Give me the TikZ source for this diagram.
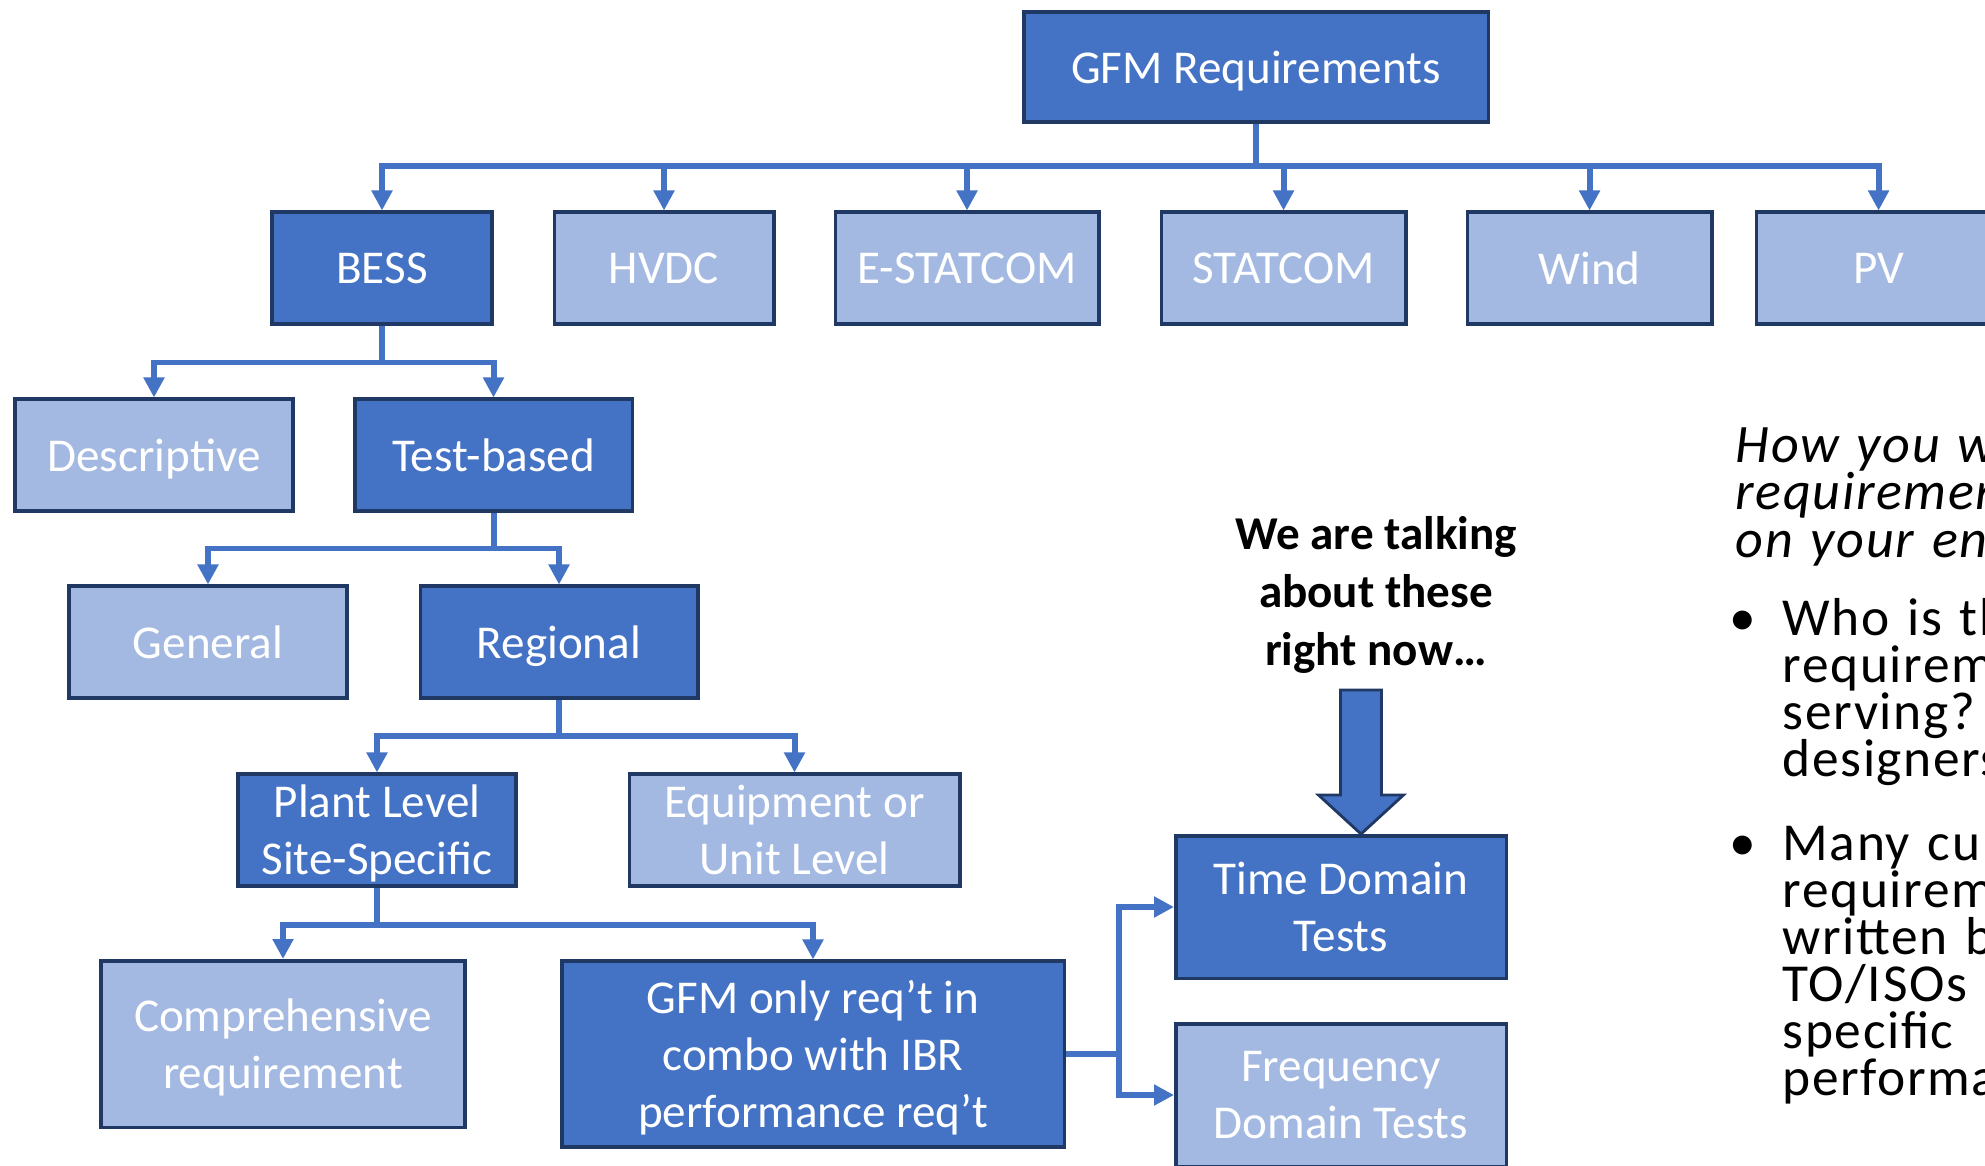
\documentclass[tikz,border=0pt]{standalone}
\usepackage{fontspec}
\setmainfont{Carlito}
\newfontfamily\notefont[LetterSpace=3]{Carlito}
\usetikzlibrary{arrows.meta,calc,positioning}

\definecolor{darkblue}{HTML}{4472C4}
\definecolor{lightblue}{HTML}{A3B9E1}
\definecolor{edgeblue}{HTML}{1F3864}

\begin{document}
\begin{tikzpicture}[block/.style={draw=edgeblue,line width=1pt,rectangle,text=white,align=center,inner sep=0pt,text depth=0pt,minimum height=1.115cm,font=\fontsize{13.4}{16.2}\selectfont},
          dark/.style={block,fill=darkblue},
          light/.style={block,fill=lightblue},
          conn/.style={draw=darkblue,line width=1.7pt,-{Triangle[length=0.2cm,width=0.2cm]}},
          note/.style={anchor=base west,inner sep=0pt,text width=3cm,align=left,font=\notefont\fontsize{15.2}{13.4}\selectfont}]

                \useasboundingbox (0,0) rectangle (19.85,-11.66);
                \clip (0,0) rectangle (19.85,-11.66);

                \node (GFM) [dark,minimum width=4.645cm,minimum height=1.105cm] at (12.56,-0.67) {GFM Requirements};

                \node (BESS) [dark,minimum width=2.195cm] at (3.82,-2.68) {BESS};
                \node (HVDC) [light,minimum width=2.195cm,right = 0.59cm of BESS] {HVDC};
                \node (ESTATCOM) [light,minimum width=2.635cm,right = 0.58cm of HVDC] {E-STATCOM};
                \node (STATCOM) [light,minimum width=2.445cm,right = 0.59cm of ESTATCOM] {STATCOM};
                \node (Wind) [light,minimum width=2.445cm,right = 0.58cm of STATCOM] {Wind};
                \node (PV) [light,minimum width=2.445cm,right = 0.41cm of Wind] {PV};

                \node (Desc) [light,minimum width=2.785cm] at (1.54,-4.55) {Descriptive};
                \node (Test) [dark,minimum width=2.775cm,right = 0.58cm of Desc] {Test-based};

                \node (General) [light,minimum width=2.775cm] at (2.08,-6.42) {General};
                \node (Regional) [dark,minimum width=2.775cm,right = 0.70cm of General] {Regional};

                \node (Plant) [dark,minimum width=2.775cm] at (3.77,-8.30) {Plant Level\\Site-Specific};
                \node (Equip) [light,minimum width=3.305cm,right = 1.10cm of Plant] {Equipment or\\Unit Level};

                \node (Compr) [light,minimum width=3.645cm,minimum height=1.665cm] at (2.83,-10.44) {Comprehensive\\requirement};
                \node (Combo) [dark,minimum width=5.025cm,minimum height=1.855cm] at (8.13,-10.54) {GFM only req’t in\\combo with IBR\\performance req’t};

                \node (Time) [dark,minimum width=3.305cm,minimum height=1.425cm] at (13.41,-9.07) {Time Domain\\Tests};
                \node (Freq) [light,minimum width=3.305cm,minimum height=1.425cm,below = 0.42cm of Time] {Frequency\\Domain Tests};

                \node (Talk) [align=center,inner sep=0pt,font=\bfseries\fontsize{13.4}{16.5}\selectfont] at (13.76,-5.95) {We are talking\\about these\\right now…};

                \draw[draw=edgeblue,fill=darkblue,line width=0.8pt] ($(Time.north)+(0.20,0)$) -- ++(-0.425,0.39) -- ++(0.22,0) -- ++(0,1.05) -- ++(0.41,0) -- ++(0,-1.05) -- ++(0.22,0) -- cycle;

                \node (How) [note,font=\notefont\itshape\fontsize{15.4}{13.6}\selectfont] at (17.35,-4.62) {How you w\\requiremen\\on your en};
                \node (DotA) [note] at (17.29,-6.35) {•};
                \node (Who) [note] at (17.82,-6.35) {Who is th\\requirem\\serving?\\designers};
                \node (DotB) [note] at (17.29,-8.60) {•};
                \node (Many) [note] at (17.82,-8.60) {Many cu\\requirem\\written b\\TO/ISOs\\specific\\performa};

                \draw[conn] (GFM.south) -- ++(0,-0.42) -| (BESS.north);
                \draw[conn] (GFM.south) -- ++(0,-0.42) -| (HVDC.north);
                \draw[conn] (GFM.south) -- ++(0,-0.42) -| (ESTATCOM.north);
                \draw[conn] (GFM.south) -- ++(0,-0.42) -| (STATCOM.north);
                \draw[conn] (GFM.south) -- ++(0,-0.42) -| (Wind.north);
                \draw[conn] (GFM.south) -- ++(0,-0.42) -| (PV.north);

                \draw[conn] (BESS.south) -- ++(0,-0.37) -| (Desc.north);
                \draw[conn] (BESS.south) -- ++(0,-0.37) -| (Test.north);

                \draw[conn] (Test.south) -- ++(0,-0.36) -| (General.north);
                \draw[conn] (Test.south) -- ++(0,-0.36) -| (Regional.north);

                \draw[conn] (Regional.south) -- ++(0,-0.36) -| (Plant.north);
                \draw[conn] (Regional.south) -- ++(0,-0.36) -| (Equip.north);

                \draw[conn] (Plant.south) -- ++(0,-0.37) -| (Compr.north);
                \draw[conn] (Plant.south) -- ++(0,-0.37) -| (Combo.north);

                \draw[conn] (Combo.east) -- ++(0.53,0) |- (Time.west);
                \draw[conn] (Combo.east) -- ++(0.53,0) |- (Freq.west);
              \end{tikzpicture}
\end{document}
